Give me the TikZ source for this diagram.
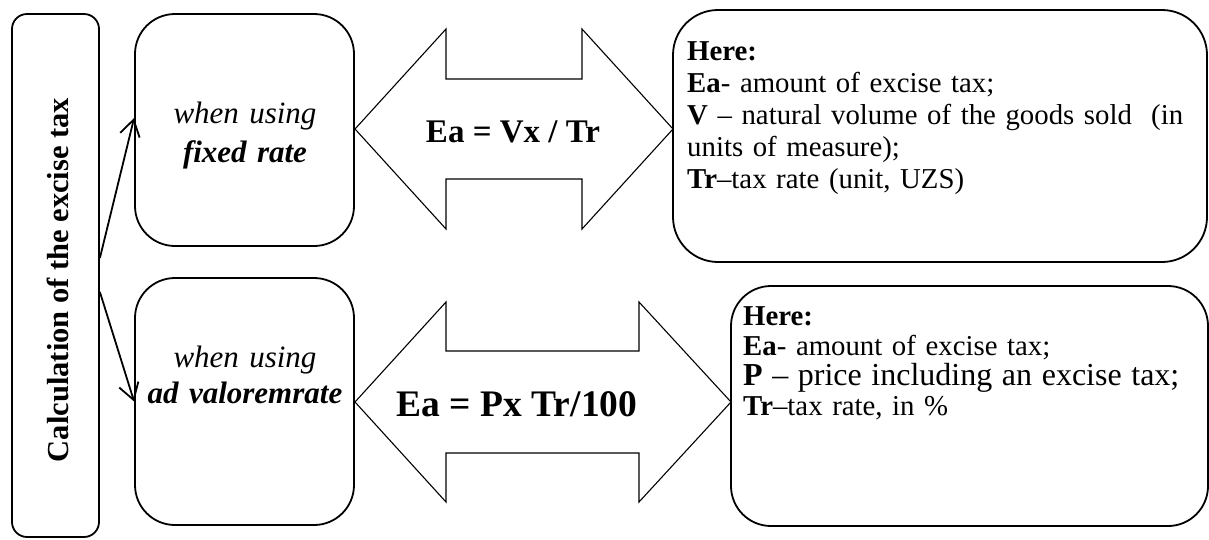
\documentclass[tikz,border=0pt]{standalone}
\usepackage{fontspec}
\setmainfont{Liberation Serif}
\usetikzlibrary{positioning,arrows.meta}

\begin{document}
\begin{tikzpicture}[
x=1pt,y=-1pt,
frame/.style={draw,line width=1.8pt,inner sep=0pt},
twoway/.style={draw,line width=1.1pt,line join=miter},
branch/.style={-{Straight Barb[length=16pt,width=20pt,line width=1.8pt]},line width=1.8pt},
mode/.style={anchor=base,inner sep=0pt,text width=219pt,align=center},
formula/.style={anchor=base,inner sep=0pt,font=\bfseries},
note/.style={anchor=base west,inner sep=0pt,align=left,font=\fontsize{28.8}{32}\selectfont}
]
\useasboundingbox (0,0) rectangle (1209,539);

% left title column
\node[frame,rounded corners=15pt,minimum width=87pt,minimum height=523pt] (calc) at (55.5,275.5) {};
\node[rotate=90,anchor=base,inner sep=0pt,font=\bfseries\fontsize{30.5}{36}\selectfont] (calctxt) at (68,280) {Calculation of the excise tax};

% the two methods
\node[frame,rounded corners=40pt,minimum width=219pt,minimum height=232pt] (fixed) at (244.5,130) {};
\node[mode,font=\itshape\fontsize{31}{39}\selectfont] (fixedtxt) at (245,123) {when using\\\textbf{fixed rate}};
\node[frame,rounded corners=40pt,minimum width=219pt,minimum height=247pt] (adval) at (244.5,401.5) {};
\node[mode,font=\itshape\fontsize{31}{36}\selectfont] (advaltxt) at (245,367) {when using\\\textbf{ad valoremrate}};

\draw[branch] ([yshift=17.5pt]calc.east) -- ([yshift=12pt]fixed.west);
\draw[branch] ([yshift=-16.5pt]calc.east) -- (adval.west);

% double arrows with the formulas
\draw[twoway] (355,129) -- (446,29) -- (446,79) -- (582,79) -- (582,29) -- (673,129)
  -- (582,229) -- (582,179) -- (446,179) -- (446,229) -- cycle;
\node[formula,font=\bfseries\fontsize{33}{38}\selectfont] (fixedeq) at (513,142) {Ea = Vx / Tr};
\draw[twoway] (355,402) -- (446,302) -- (446,351) -- (639,351) -- (639,302) -- (731,402)
  -- (639,502) -- (639,453) -- (446,453) -- (446,502) -- cycle;
\node[formula,font=\bfseries\fontsize{37.5}{42}\selectfont] (advaleq) at (517,416) {Ea = Px Tr/100};

% explanations
\node[frame,rounded corners=45pt,minimum width=534pt,minimum height=252pt] (fixeddef) at (940,136) {};
\node[note,text width=498pt] (fixeddeftxt) at (687,60) {\textbf{Here:}\\
\textbf{Ea}- amount of excise tax;\\
\makebox[\linewidth][s]{\textbf{V} -- natural volume of the goods sold\ \ (in}\\
units of measure);\\
\textbf{Tr}--tax rate (unit, UZS)};

\node[frame,rounded corners=40pt,minimum width=477pt,minimum height=240pt] (advaldef) at (969.5,406) {};
\node[note,text width=450pt,font=\fontsize{28.8}{30}\selectfont] (advaldeftxt) at (743,325) {\textbf{Here:}\\
\textbf{Ea}- amount of excise tax;\\
{\fontsize{32}{30}\selectfont\textbf{P} -- price including an excise tax;}\\
\textbf{Tr}--tax rate, in \%};
\end{tikzpicture}
\end{document}
